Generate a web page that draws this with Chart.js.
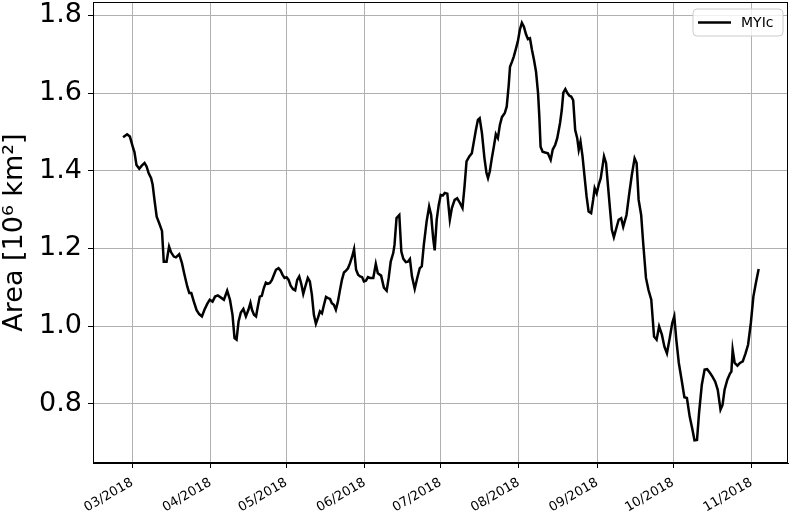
<!DOCTYPE html>
<html><head><meta charset="utf-8">
<script src="https://cdn.jsdelivr.net/npm/chart.js@4"></script>
<style>html,body{margin:0;padding:0;background:#fff}#wrap{width:792px;height:513px}</style>
</head><body><div id="wrap"><canvas id="c" width="792" height="513"></canvas></div>
<script>
// days counted from 2018-03-01
const dayOffsets = [
-3.6,-2.0,-0.9,0.4,0.9,1.7,2.8,3.8,4.9,5.7,6.5,7.5,8.1,8.9,9.7,10.7,11.8,12.5,13.6,14.6,15.4,16.5,17.3,18.6,19.7,20.7,21.8,22.6,23.4,24.4,25.5,26.5,27.6,28.6,29.7,30.7,31.8,32.8,33.9,35.0,36.3,37.6,38.7,39.7,40.5,41.3,42.1,43.0,44.0,45.0,46.0,46.8,47.4,48.2,49.0,49.7,50.5,51.3,52.1,52.9,53.7,54.5,
55.3,56.1,56.9,57.9,58.7,59.5,60.3,61.1,61.9,62.7,63.7,64.5,65.3,66.1,66.9,67.7,68.5,69.5,70.3,71.1,71.9,72.7,73.5,74.3,75.1,75.9,76.7,77.5,78.3,79.0,79.8,80.6,81.4,82.2,83.0,83.8,84.6,85.4,86.2,87.0,87.8,88.6,89.4,90.2,91.0,91.7,92.5,93.3,94.1,
95.4,96.4,97.2,98.5,99.6,100.7,101.5,102.3,103.3,103.8,104.6,105.7,106.5,107.3,108.3,109.1,109.9,110.7,111.8,112.8,113.8,114.6,115.4,116.5,117.5,118.3,119.1,119.7,120.5,121.3,122.1,122.9,123.7,124.7,125.7,126.5,127.6,128.6,129.7,130.7,131.5,132.3,133.4,134.4,135.2,136.0,136.8,137.5,138.4,139.4,140.2,140.8,141.5,142.3,143.1,143.9,144.7,145.5,
146.3,147.4,148.2,149.0,149.5,150.3,151.0,151.8,152.6,153.4,154.2,155.0,155.8,156.6,157.4,158.2,159.0,159.8,160.6,161.1,161.6,162.4,163.4,164.5,165.6,166.4,167.4,168.2,169.3,170.0,170.6,171.4,172.2,173.0,173.7,174.5,175.3,176.1,176.7,177.4,178.2,179.0,179.8,180.6,181.6,182.4,183.0,183.8,184.6,185.4,186.2,186.7,187.5,188.3,189.1,189.8,190.6,191.4,192.5,193.5,194.3,
195.6,196.7,197.7,198.8,199.6,200.4,201.4,202.2,203.3,204.3,205.4,206.5,207.5,208.5,209.6,210.6,211.6,212.7,213.7,214.5,215.3,216.3,217.4,218.5,219.5,220.6,221.7,222.5,223.5,224.3,225.4,226.5,227.5,228.6,229.6,230.7,231.7,232.8,233.6,234.4,235.5,236.5,237.1,237.6,238.4,239.5,240.5,241.6,242.7,243.7,244.8,245.8,246.9,247.9
];
const myicArea = [
1.486,1.494,1.488,1.458,1.448,1.415,1.405,1.413,1.420,1.411,1.394,1.381,1.364,1.321,1.282,1.265,1.245,1.166,1.166,1.205,1.190,1.179,1.177,1.185,1.162,1.132,1.102,1.085,1.085,1.063,1.041,1.031,1.025,1.042,1.057,1.068,1.063,1.076,1.079,1.074,1.068,1.091,1.068,1.029,0.969,0.965,1.012,1.035,1.044,1.025,1.042,1.060,1.042,1.029,1.025,1.050,1.076,1.078,1.098,1.112,1.109,1.111,
1.119,1.132,1.145,1.149,1.143,1.132,1.124,1.126,1.119,1.104,1.095,1.092,1.119,1.128,1.109,1.083,1.102,1.124,1.115,1.081,1.029,1.006,1.021,1.038,1.033,1.055,1.075,1.072,1.070,1.059,1.055,1.042,1.063,1.092,1.119,1.138,1.143,1.149,1.162,1.178,1.198,1.145,1.132,1.128,1.126,1.115,1.117,1.126,1.124,
1.124,1.160,1.136,1.130,1.099,1.091,1.124,1.166,1.188,1.209,1.278,1.286,1.192,1.173,1.165,1.166,1.173,1.128,1.096,1.124,1.149,1.154,1.209,1.269,1.308,1.286,1.226,1.195,1.274,1.312,1.338,1.336,1.343,1.341,1.274,1.304,1.325,1.329,1.317,1.304,1.359,1.424,1.437,1.445,1.475,1.505,1.531,1.535,1.497,1.432,1.394,1.381,1.398,1.432,1.462,1.494,1.484,1.518,
1.538,1.548,1.565,1.621,1.668,1.681,1.694,1.713,1.733,1.763,1.781,1.771,1.752,1.739,1.741,1.711,1.685,1.655,1.600,1.540,1.462,1.449,1.447,1.445,1.428,1.454,1.467,1.484,1.523,1.557,1.601,1.610,1.600,1.593,1.591,1.582,1.505,1.484,1.454,1.475,1.437,1.385,1.334,1.295,1.291,1.325,1.355,1.342,1.364,1.381,1.415,1.437,1.420,1.359,1.299,1.248,1.229,1.248,1.274,1.278,1.256,
1.286,1.342,1.389,1.432,1.420,1.325,1.286,1.214,1.124,1.093,1.068,0.973,0.965,0.999,0.978,0.947,0.930,0.969,1.008,1.025,0.965,0.905,0.862,0.817,0.815,0.767,0.733,0.706,0.707,0.776,0.849,0.888,0.889,0.880,0.870,0.857,0.836,0.785,0.797,0.836,0.862,0.877,0.883,0.939,0.905,0.898,0.905,0.909,0.930,0.952,1.008,1.076,1.115,1.147
];
const xTickDays = [0,31,61,92,122,153,184,214,245];
const xTickLabels = ['03/2018','04/2018','05/2018','06/2018','07/2018','08/2018','09/2018','10/2018','11/2018'];
const yTickValues = [0.8,1.0,1.2,1.4,1.6,1.8];
const seriesLabel = 'MYIc';
const yTitle = 'Area [10\u2076 km\u00b2]';

const FONT = "'DejaVu Sans', sans-serif";
const points = dayOffsets.map((d,i)=>({x:d, y:myicArea[i]}));

const framePlugin = {
  id:'frame',
  afterDraw(chart){
    const {ctx, chartArea:a} = chart;
    ctx.save();
    ctx.strokeStyle='#000'; ctx.lineWidth=1;
    ctx.strokeRect(Math.round(a.left)+0.5, Math.round(a.top)+0.5, Math.round(a.right-a.left)-1, Math.round(a.bottom-a.top)-1);
    // legend
    const label = chart.data.datasets[0].label;
    const bx = a.right-95, by = a.top+7, bw = 90, bh = 27, r = 4;
    ctx.beginPath();
    ctx.moveTo(bx+r,by); ctx.lineTo(bx+bw-r,by); ctx.quadraticCurveTo(bx+bw,by,bx+bw,by+r);
    ctx.lineTo(bx+bw,by+bh-r); ctx.quadraticCurveTo(bx+bw,by+bh,bx+bw-r,by+bh);
    ctx.lineTo(bx+r,by+bh); ctx.quadraticCurveTo(bx,by+bh,bx,by+bh-r);
    ctx.lineTo(bx,by+r); ctx.quadraticCurveTo(bx,by,bx+r,by); ctx.closePath();
    ctx.fillStyle='rgba(255,255,255,0.8)'; ctx.fill();
    ctx.strokeStyle='#cccccc'; ctx.lineWidth=1; ctx.stroke();
    ctx.beginPath(); ctx.strokeStyle='#000'; ctx.lineWidth=2.5;
    ctx.moveTo(bx+5, by+13.5); ctx.lineTo(bx+38, by+13.5); ctx.stroke();
    ctx.fillStyle='#000'; ctx.font = '14px '+FONT; ctx.textBaseline='middle'; ctx.textAlign='left';
    ctx.fillText(label, bx+48, by+14);
    ctx.restore();
  }
};

new Chart(document.getElementById('c'), {
  type:'line',
  data:{datasets:[{label:seriesLabel, data:points, borderColor:'#000', borderWidth:2.5, pointRadius:0, tension:0, fill:false}]},
  options:{
    responsive:false, animation:false, devicePixelRatio:1,
    layout:{padding:{top:2,right:4,left:0,bottom:0}},
    plugins:{legend:{display:false}, tooltip:{enabled:false}},
    scales:{
      x:{type:'linear', min:-15.5, max:259.5,
        afterBuildTicks(s){ s.ticks = xTickDays.map(v=>({value:v})); },
        afterFit(s){ s.height = 50; s.paddingLeft=0; s.paddingRight=0; },
        ticks:{autoSkip:false, maxRotation:30, minRotation:30, padding:7, color:'#000', font:{family:FONT,size:13},
          callback(v){ const i = xTickDays.indexOf(v); return i>=0 ? xTickLabels[i] : ''; }},
        grid:{color:'#b0b0b0', lineWidth:1, tickColor:'#000', tickLength:5},
        border:{color:'#000', width:1}
      },
      y:{type:'linear', min:0.6475, max:1.8345,
        afterBuildTicks(s){ s.ticks = yTickValues.map(v=>({value:v})); },
        afterFit(s){ s.width = 93; s.paddingTop=0; s.paddingBottom=0; },
        ticks:{padding:6, color:'#000', font:{family:FONT,size:27}, callback(v){ return v.toFixed(1); }},
        grid:{color:'#b0b0b0', lineWidth:1, tickColor:'#000', tickLength:5},
        border:{color:'#000', width:1},
        title:{display:true, text:yTitle, color:'#000', font:{family:FONT,size:27,lineHeight:1.1}, padding:{top:0,bottom:0}}
      }
    }
  },
  plugins:[framePlugin]
});
</script></body></html>
